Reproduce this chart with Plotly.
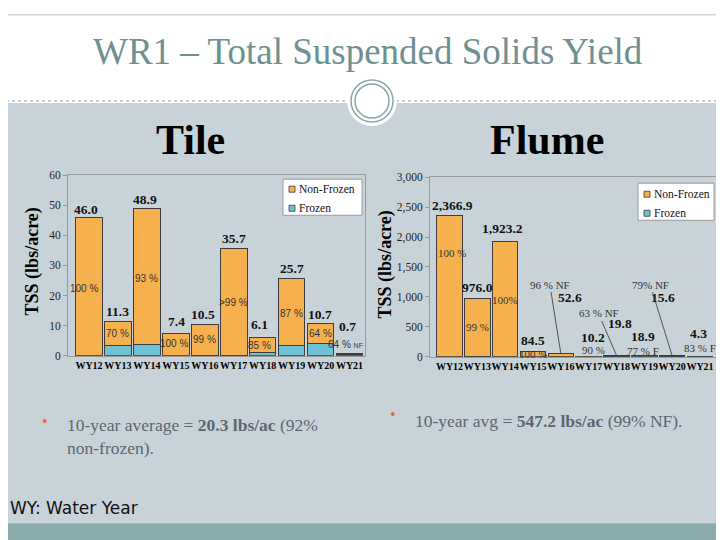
import plotly.graph_objects as go

W, H = 724, 540
OFFX = 8      # page offset (horizontal) observed in the photograph
OFFY = 14.3   # page offset (vertical) observed in the photograph
SY = 0.975    # observed vertical scale of the photograph

# ---------------- data ----------------
years = ["WY12", "WY13", "WY14", "WY15", "WY16", "WY17", "WY18", "WY19", "WY20", "WY21"]

tile_total = [46.0, 11.3, 48.9, 7.4, 10.5, 35.7, 6.1, 25.7, 10.7, 0.7]
tile_frozen = [0.0, 3.4, 3.6, 0.0, 0.1, 0.2, 0.9, 3.3, 3.9, 0.25]
tile_nonfrozen = [46.0, 7.9, 45.3, 7.4, 10.4, 35.5, 5.2, 22.4, 6.8, 0.45]
tile_pct = ["100 %", "70 %", "93 %", "100 %", "99 %", ">99 %", "85 %", "87 %", "64 %",
            "64 % <span style='font-size:7px'>NF</span>"]

flume_total = [2366.9, 976.0, 1923.2, 84.5, 52.6, 10.2, 19.8, 18.9, 15.6, 4.3]
flume_frozen = [0.0, 10.0, 0.0, 0.0, 2.1, 1.0, 7.3, 14.6, 3.3, 3.6]
flume_nonfrozen = [2366.9, 966.0, 1923.2, 84.5, 50.5, 9.2, 12.5, 4.3, 12.3, 0.7]
flume_pct = ["100 %", "99 %", "100%", "100 %", "96 % NF", "90 %", "63 % NF", "77 % F", "79% NF", "83 % F"]

series_names = ["Non-Frozen", "Frozen"]

# ---------------- styling / positions ----------------
ORANGE = "#f6b04e"
BLUE = "#6dc2d6"
EDGE = "#3c3c3c"
BODY = "#c8d3d9"
TEAL = "#89abab"
SERIF = "Liberation Serif, Times New Roman, DejaVu Serif, serif"


def px(x):
    return (x - OFFX) / W


def py(y):
    return 1 - ((y - OFFY) / SY) / H


tile_tot_dx = [-3, 0, -2, 1, -2, 0, -3, 0, -1, -2]
tile_tot_dy = [8, 10, 9, 12, 9.5, 10, 13, 10, 9, 27]
tile_pct_dx = [-5, 0, 0, -2, 0, 0, -3, 0, 0, -4]
tile_pct_dy = [-2, 0, -2, 1, 0, -1, 0, -1.5, 0, 10]

fl_tot_dx = [3, 0, -3, 0, 9, 4, 3, -1, -9, -2]
fl_tot_dy = [10, 11, 13, 11, 56, 19, 32, 19, 58, 23]
fl_pct_mode = ["in", "in", "in", "in", "lead", "in", "lead", "in", "lead", "in"]
fl_pct_dx = [2, 0, 0, 0, -11, 5, -18, -1, -22, 0]
fl_pct_dy = [-38, -29, -58, -2, -69, 6, -42, 5, -71, 8]

fig = go.Figure()

# Tile chart
fig.add_trace(go.Bar(x=years, y=tile_frozen, name="Frozen", marker=dict(color=BLUE, line=dict(color=EDGE, width=1)),
                     xaxis="x", yaxis="y"))
fig.add_trace(go.Bar(x=years, y=tile_nonfrozen, name="Non-Frozen", marker=dict(color=ORANGE, line=dict(color=EDGE, width=1)),
                     xaxis="x", yaxis="y"))
# Flume chart
fig.add_trace(go.Bar(x=years, y=flume_frozen, name="Frozen", marker=dict(color=BLUE, line=dict(color=EDGE, width=1)),
                     xaxis="x2", yaxis="y2"))
fig.add_trace(go.Bar(x=years, y=flume_nonfrozen, name="Non-Frozen", marker=dict(color=ORANGE, line=dict(color=EDGE, width=1)),
                     xaxis="x2", yaxis="y2"))

ann = []
# Tile labels
for i, yr in enumerate(years):
    ann.append(dict(x=yr, y=tile_total[i], xref="x", yref="y", text=f"<b>{tile_total[i]:.1f}</b>",
                    showarrow=False, xanchor="center", yanchor="middle", xshift=tile_tot_dx[i], yshift=tile_tot_dy[i],
                    font=dict(family=SERIF, size=13.5, color="#111")))
    ann.append(dict(x=yr, y=tile_frozen[i] + tile_nonfrozen[i] / 2, xref="x", yref="y", text=tile_pct[i],
                    showarrow=False, xanchor="center", yanchor="middle", xshift=tile_pct_dx[i], yshift=tile_pct_dy[i],
                    font=dict(family="Liberation Sans, Arial, sans-serif", size=10, color="#333")))
# Flume labels
for i, yr in enumerate(years):
    ann.append(dict(x=yr, y=flume_total[i], xref="x2", yref="y2", text=f"<b>{flume_total[i]:,.1f}</b>",
                    showarrow=False, xanchor="center", yanchor="middle", xshift=fl_tot_dx[i], yshift=fl_tot_dy[i],
                    font=dict(family=SERIF, size=13.5, color="#111")))
    if fl_pct_mode[i] == "in":
        ann.append(dict(x=yr, y=flume_total[i], xref="x2", yref="y2", text=flume_pct[i],
                        showarrow=False, xanchor="center", yanchor="middle", xshift=fl_pct_dx[i], yshift=fl_pct_dy[i],
                        font=dict(family=SERIF, size=11, color="#333")))
    else:
        ann.append(dict(x=yr, y=flume_total[i], xref="x2", yref="y2", text=flume_pct[i],
                        showarrow=True, arrowhead=0, arrowwidth=0.8, arrowcolor="#333", standoff=0,
                        ax=fl_pct_dx[i], ay=fl_pct_dy[i],
                        font=dict(family=SERIF, size=11, color="#333")))


def slide_text(x, y, text, size, color, family=SERIF, xanchor="center", angle=0, align="center"):
    return dict(x=px(x), y=py(y), xref="paper", yref="paper", text=text, showarrow=False,
                xanchor=xanchor, yanchor="middle", textangle=angle, align=align,
                font=dict(family=family, size=size, color=color))


ann += [
    slide_text(368, 52, "WR1 – Total Suspended Solids Yield", 37, "#6f9090"),
    slide_text(190, 140, "<b>Tile</b>", 42, "#000"),
    slide_text(547, 140, "<b>Flume</b>", 42, "#000"),
    slide_text(32, 261, "<b>TSS (lbs/acre)</b>", 18, "#000", angle=-90),
    slide_text(385, 264, "<b>TSS (lbs/acre)</b>", 18, "#000", angle=-90),
    slide_text(45, 421, "•", 16, "#e07040"),
    slide_text(65, 436, "10-year average = <b>20.3 lbs/ac</b> (92%<br>non-frozen).", 17.5, "#5b6670",
               xanchor="left", align="left"),
    slide_text(393, 414, "•", 16, "#e07040"),
    slide_text(413, 420, "10-year avg = <b>547.2 lbs/ac</b> (99% NF).", 17.5, "#5b6670", xanchor="left", align="left"),
    slide_text(8, 507, "WY: Water Year", 17, "#111", family="DejaVu Sans", xanchor="left", align="left"),
]

shapes = [
    dict(type="rect", xref="paper", yref="paper", x0=px(6), x1=px(740), y0=py(103), y1=py(522),
         fillcolor=BODY, line=dict(width=0), layer="below"),
    dict(type="rect", xref="paper", yref="paper", x0=px(6), x1=px(740), y0=py(522), y1=py(580),
         fillcolor=TEAL, line=dict(width=0), layer="below"),
    dict(type="rect", xref="paper", yref="paper", x0=px(6), x1=px(760), y0=py(15), y1=py(600),
         fillcolor="rgba(0,0,0,0)", line=dict(color="#cfd8d8", width=1.5), layer="below"),
    dict(type="line", xref="paper", yref="paper", x0=px(6), x1=px(740), y0=py(101), y1=py(101),
         line=dict(color="#9a9a9a", width=1, dash="dot"), layer="below"),
    dict(type="circle", xref="paper", yref="paper", x0=px(347), x1=px(397), y0=py(76), y1=py(126),
         fillcolor="white", line=dict(width=0), layer="below"),
    dict(type="circle", xref="paper", yref="paper", x0=px(351), x1=px(393), y0=py(80), y1=py(122),
         fillcolor="rgba(0,0,0,0)", line=dict(color="#8aa6a6", width=1.5), layer="below"),
    dict(type="circle", xref="paper", yref="paper", x0=px(355), x1=px(389), y0=py(84), y1=py(118),
         fillcolor="rgba(0,0,0,0)", line=dict(color="#8aa6a6", width=1.5), layer="below"),
]

# custom legends (box, swatches, labels)
legend_boxes = [(283, 362, 179, 215, 289, [189, 208]), (638, 714, 183, 220, 644, [194, 213])]
for (bx0, bx1, by0, by1, sx, rows) in legend_boxes:
    shapes.append(dict(type="rect", xref="paper", yref="paper", x0=px(bx0), x1=px(bx1), y0=py(by0), y1=py(by1),
                       fillcolor="white", line=dict(color="#9a9a9a", width=1), layer="above"))
    for name, col, ry in zip(series_names, [ORANGE, BLUE], rows):
        shapes.append(dict(type="rect", xref="paper", yref="paper", x0=px(sx), x1=px(sx + 6),
                           y0=py(ry - 3), y1=py(ry + 3), fillcolor=col,
                           line=dict(color=EDGE, width=0.8), layer="above"))
        ann.append(slide_text(sx + 8, ry, name, 11.5, "#111", xanchor="left", align="left"))

xcommon = dict(type="category", showgrid=False, showline=True, linecolor="#9a9a9a", mirror=True,
               tickangle=0, tickfont=dict(family=SERIF, size=10, color="#000", weight="bold"),
               ticks="", fixedrange=True)
ycommon = dict(showgrid=True, gridcolor="#d4d4d4", showline=True, linecolor="#9a9a9a", mirror=True,
               ticks="outside", ticklen=4, tickcolor="#9a9a9a", zeroline=False,
               tickfont=dict(family=SERIF, size=11.5, color="#222"))

fig.update_layout(
    width=W, height=H, margin=dict(l=0, r=0, t=0, b=0),
    paper_bgcolor="white", plot_bgcolor="white",
    barmode="stack", bargap=0.08,
    xaxis=dict(domain=[px(68), px(365)], anchor="y", **xcommon),
    yaxis=dict(domain=[py(355), py(175)], anchor="x", range=[0, 60], dtick=10, **ycommon),
    xaxis2=dict(domain=[px(430), px(718)], anchor="y2", **xcommon),
    yaxis2=dict(domain=[py(356), py(177)], anchor="x2", range=[0, 3000], dtick=500, tickformat=",", **ycommon),
    showlegend=False,
    annotations=ann,
    shapes=shapes,
)

fig.write_html("out.html")
